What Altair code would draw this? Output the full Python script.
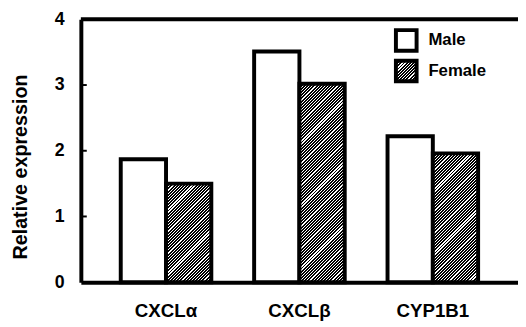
import json
import altair as alt
import pandas as pd

# ---- data ----
genes = ["CXCLα", "CXCLβ", "CYP1B1"]
male = [1.87, 3.51, 2.22]
female = [1.50, 3.02, 1.96]
sexes = ["Male", "Female"]
yticks = [0, 1, 2, 3, 4]
inner_ticks = [1, 2, 3]

rows = []
for g, m, f in zip(genes, male, female):
    rows.append({"gene": g, "sex": "Male", "value": m})
    rows.append({"gene": g, "sex": "Female", "value": f})
df = pd.DataFrame(rows)

# ---- layout ----
W, H = 444, 267
TOP = 9
PI, PO = 0.321, 0.299
YMAX = 4
step = W / (len(genes) - PI + 2 * PO)
bar_w = step * (1 - PI) / 2
PERIOD = 3.2
FONT = "Liberation Sans"


def hatch(w, h):
    """diagonal stripes as a hard-stop linear gradient (bbox units)"""
    L = w + h
    k = L / (w * w + h * h)
    stops = []
    n = int(L / PERIOD) + 2
    for i in range(n):
        a = min(1.0, i * PERIOD / L)
        b = min(1.0, (i + 0.62) * PERIOD / L)
        c = min(1.0, (i + 1) * PERIOD / L)
        stops += [
            {"offset": round(a, 4), "color": "black"},
            {"offset": round(b, 4), "color": "black"},
            {"offset": round(b, 4), "color": "white"},
            {"offset": round(c, 4), "color": "white"},
        ]
        if c >= 1.0:
            break
    return {"gradient": "linear", "x1": 0, "y1": 0, "x2": round(k * w, 4),
            "y2": round(k * h, 4), "stops": stops}


conds = [
    {"test": f"datum.gene === '{g}' && datum.sex === 'Female'",
     "value": hatch(bar_w, v / YMAX * H)}
    for g, v in zip(genes, female)
]

legend_grad = hatch(21, 21)

fill_enc = {
    "condition": conds,
    "field": "sex",
    "type": "nominal",
    "scale": {"domain": sexes, "range": ["white", {"expr": json.dumps(legend_grad)}]},
    "legend": {
        "title": None,
        "orient": "none",
        "legendX": 318,
        "legendY": 9,
        "symbolType": "square",
        "symbolSize": 441,
        "symbolStrokeColor": "black",
        "symbolStrokeWidth": 4,
        "labelFont": FONT,
        "labelFontSize": 17,
        "labelFontWeight": "bold",
        "labelColor": "black",
        "labelOffset": 10,
        "rowPadding": -6,
        "padding": 0,
    },
}

ytitle = "Relative expression"

bars = alt.Chart(df).mark_bar(stroke="black", strokeWidth=4).encode(
    x=alt.X("gene:N", sort=genes, title=None,
            scale=alt.Scale(paddingInner=PI, paddingOuter=PO),
            axis=alt.Axis(labelAngle=0, ticks=False, domainWidth=4, domainColor="black",
                          labelFont=FONT, labelFontSize=19, labelFontWeight="bold",
                          labelColor="black", labelPadding=20)),
    xOffset=alt.XOffset("sex:N", sort=sexes, scale=alt.Scale(paddingInner=0, paddingOuter=0)),
    y=alt.Y("value:Q", title=ytitle,
            scale=alt.Scale(domain=[0, YMAX], nice=False),
            axis=alt.Axis(values=yticks, format="d", grid=False, ticks=False, domainWidth=4,
                          domainColor="black", labelFont=FONT, labelFontSize=18,
                          labelFontWeight="bold", labelColor="black", labelPadding=17,
                          titleFont=FONT, titleFontSize=20, titleFontWeight="bold",
                          titleColor="black", titleX=-61, titleY=H / 2 + 16,
                          titleAngle=270, titleBaseline="middle", titleAlign="center")),
    fill=fill_enc,
)

top = alt.Chart(alt.Data(values=[{"v": YMAX}])).mark_rule(
    color="black", strokeWidth=4).encode(
    y=alt.Y("v:Q", title=ytitle),
    x=alt.value(0), x2=alt.value(W),
)

tk = alt.Chart(pd.DataFrame({"value": inner_ticks})).mark_rule(
    color="black", strokeWidth=2).encode(
    y=alt.Y("value:Q", title=ytitle),
    x=alt.value(0), x2=alt.value(6),
)

chart = alt.layer(bars, top, tk).properties(
    width=W, height=H,
    padding={"left": 74, "top": TOP, "right": 0, "bottom": 42},
    autosize=alt.AutoSizeParams(type="none"),
).configure_view(strokeWidth=0)

chart.save("out.html", embed_options={"renderer": "svg", "actions": False})
